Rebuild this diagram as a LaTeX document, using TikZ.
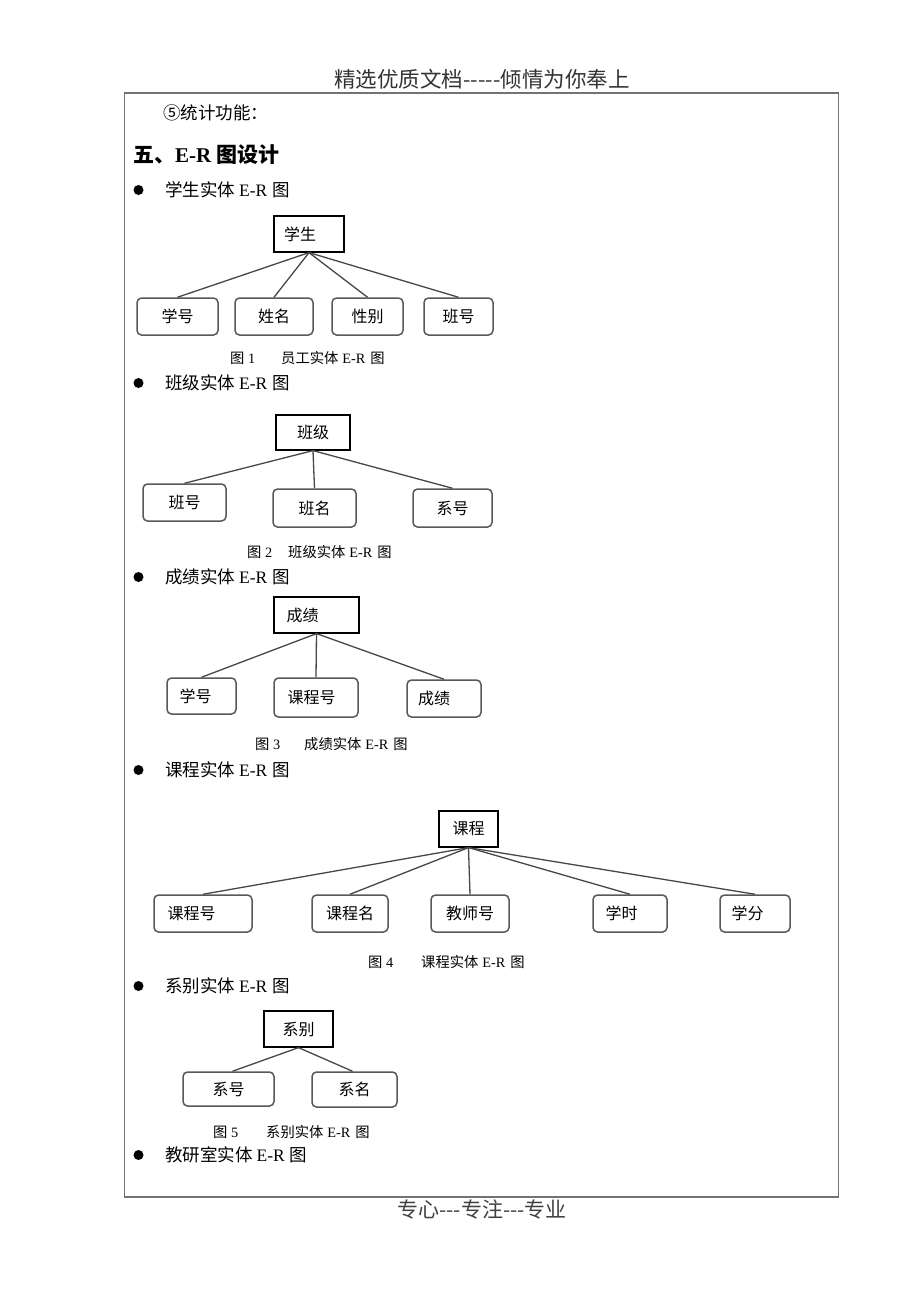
\documentclass[tikz,border=0pt]{standalone}
\usepackage{fontspec}
\setmainfont{Liberation Serif}
\newfontfamily\cjk{Noto Sans CJK SC}
\newcommand\zh[1]{{\cjk #1}}
\newcommand\er{\hspace*{4pt}E-R\hspace*{5pt}}
\begin{document}
\begin{tikzpicture}[x=1pt,y=-1pt,
  ent/.style={draw=black, line width=1.2pt, inner sep=0pt, font=\cjk\fontsize{16pt}{18pt}\selectfont},
  attr/.style={draw=black!65, line width=1.5pt, rounded corners=4.5pt, inner sep=0pt, font=\cjk\fontsize{16pt}{18pt}\selectfont},
  link/.style={draw=black!72, line width=1.3pt},
  body/.style={anchor=west, inner sep=0pt, font=\fontsize{17.5pt}{19pt}\selectfont},
  figcap/.style={anchor=west, inner sep=0pt, font=\fontsize{14.3pt}{16pt}\selectfont},
  bul/.style={circle, fill=black, inner sep=0pt, minimum size=10pt}]
\useasboundingbox (0,0) rectangle (920,1302);
\fill[white] (0,0) rectangle (920,1302);

% header / footer / frame
\node[inner sep=0pt, text=black!80, font=\cjk\fontsize{21.5pt}{23pt}\selectfont] (hdr) at (482,79) {精选优质文档-----倾情为你奉上};
\node[inner sep=0pt, text=black!75, font=\cjk\fontsize{21pt}{23pt}\selectfont] (ftr) at (482,1209) {专心---专注---专业};
\draw[black!55, line width=1.5pt] (124.5,93) rectangle (838.5,1197);

% intro texts
\node[body] (t0) at (163,113) {\zh{⑤统计功能：}};
\node[anchor=west, inner sep=0pt, font=\bfseries\fontsize{21pt}{23pt}\selectfont] (h5) at (133,155) {\zh{五、}E-R \zh{图设计}};

% ---------- Fig 1
\node[bul] (b1) at (138.5,190) {};
\node[body] (l1) at (165,190) {\zh{学生实体}\er\zh{图}};
\node[ent, minimum width=70pt, minimum height=36pt] (s) at (309,234) {学生\hspace*{18pt}};
\node[attr, minimum width=81pt, minimum height=37pt] (s1) at (177.5,316.5) {学号};
\node[attr, minimum width=78pt, minimum height=37pt] (s2) at (274,316.5) {姓名};
\node[attr, minimum width=71pt, minimum height=37pt] (s3) at (367.5,316.5) {性别};
\node[attr, minimum width=69pt, minimum height=37pt] (s4) at (458.5,316.5) {班号};
\foreach \t in {s1,s2,s3,s4} \draw[link] (s.south) -- (\t.north);
\node[figcap] (c1) at (230,358) {\zh{图} 1\hspace*{26pt}\zh{员工实体}\er\zh{图}};

% ---------- Fig 2
\node[bul] (b2) at (138.5,383) {};
\node[body] (l2) at (165,383) {\zh{班级实体}\er\zh{图}};
\node[ent, minimum width=74pt, minimum height=35pt] (k) at (313,432.5) {班级};
\node[attr, minimum width=83pt, minimum height=37pt] (k1) at (184.5,502.5) {班号};
\node[attr, minimum width=83pt, minimum height=38pt] (k2) at (314.5,508) {班名};
\node[attr, minimum width=79pt, minimum height=38pt] (k3) at (452.5,508) {系号};
\foreach \t in {k1,k2,k3} \draw[link] (k.south) -- (\t.north);
\node[figcap] (c2) at (247,552) {\zh{图} 2\hspace*{16pt}\zh{班级实体}\er\zh{图}};

% ---------- Fig 3
\node[bul] (b3) at (138.5,577) {};
\node[body] (l3) at (165,577) {\zh{成绩实体}\er\zh{图}};
\node[ent, minimum width=85pt, minimum height=36pt] (g) at (316.5,615) {成绩\hspace*{28pt}};
\node[attr, minimum width=69pt, minimum height=36pt] (g1) at (201.5,696) {学号\hspace*{12pt}};
\node[attr, minimum width=84pt, minimum height=39pt] (g2) at (316,697.5) {课程号\hspace*{9pt}};
\node[attr, minimum width=74pt, minimum height=37pt] (g3) at (444,698.5) {成绩\hspace*{20pt}};
\foreach \t in {g1,g2,g3} \draw[link] (g.south) -- (\t.north);
\node[figcap] (c3) at (255,744) {\zh{图} 3\hspace*{24pt}\zh{成绩实体}\er\zh{图}};

% ---------- Fig 4
\node[bul] (b4) at (138.5,770) {};
\node[body] (l4) at (165,770) {\zh{课程实体}\er\zh{图}};
\node[ent, minimum width=59pt, minimum height=36pt] (c) at (468.5,829) {课程};
\node[attr, minimum width=98pt, minimum height=37pt] (c1n) at (203,913.5) {课程号\hspace*{23pt}};
\node[attr, minimum width=76pt, minimum height=37pt] (c2n) at (350,913.5) {课程名};
\node[attr, minimum width=78pt, minimum height=37pt] (c3n) at (470,913.5) {教师号};
\node[attr, minimum width=74pt, minimum height=37pt] (c4n) at (630,913.5) {学时\hspace*{17pt}};
\node[attr, minimum width=70pt, minimum height=37pt] (c5n) at (755,913.5) {学分\hspace*{15pt}};
\foreach \t in {c1n,c2n,c3n,c4n,c5n} \draw[link] (c.south) -- (\t.north);
\node[figcap] (c4) at (368,962) {\zh{图} 4\hspace*{28pt}\zh{课程实体}\er\zh{图}};

% ---------- Fig 5
\node[bul] (b5) at (138.5,986) {};
\node[body] (l5) at (165,986) {\zh{系别实体}\er\zh{图}};
\node[ent, minimum width=69pt, minimum height=36pt] (x) at (298.5,1029) {系别};
\node[attr, minimum width=91pt, minimum height=34pt] (x1) at (228.5,1089) {系号};
\node[attr, minimum width=85pt, minimum height=35pt] (x2) at (354.5,1089.5) {系名};
\draw[link] (x.south) -- ([xshift=4pt]x1.north);
\draw[link] (x.south) -- ([xshift=-2pt]x2.north);
\node[figcap] (c5) at (213,1132) {\zh{图} 5\hspace*{28pt}\zh{系别实体}\er\zh{图}};

% ---------- last bullet
\node[bul] (b6) at (138.5,1155) {};
\node[body] (l6) at (165,1155) {\zh{教研室实体}\er\zh{图}};
\end{tikzpicture}
\end{document}
